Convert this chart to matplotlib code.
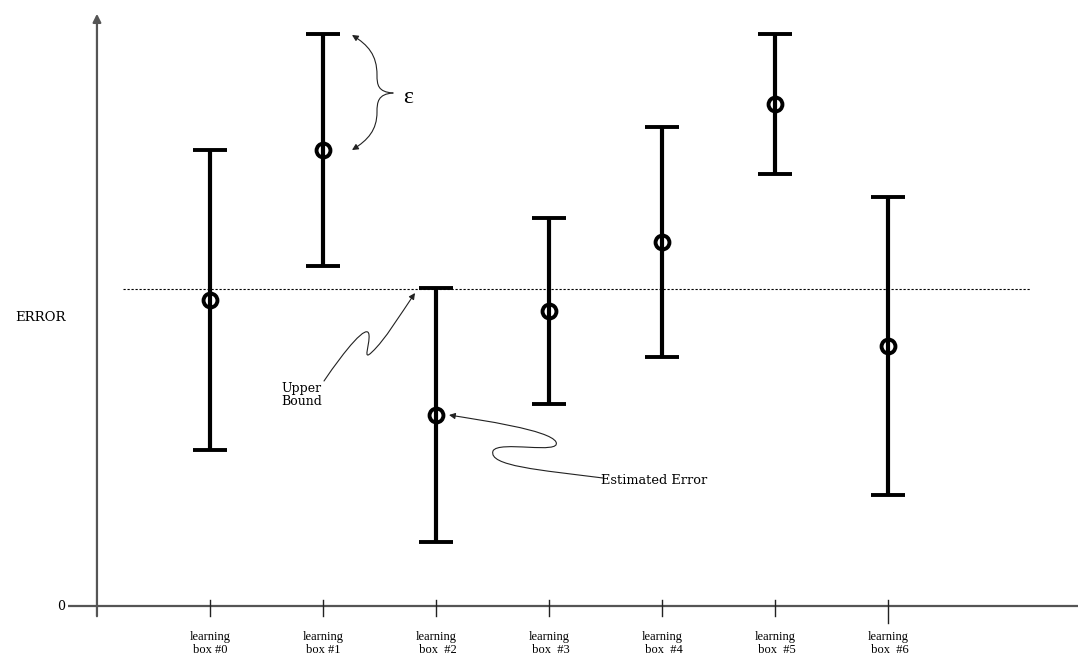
import numpy as np
import matplotlib
matplotlib.use("Agg")
import matplotlib.pyplot as plt
from matplotlib.path import Path
from matplotlib.patches import FancyArrowPatch

# Estimated error of each learning box and its confidence width (epsilon)
boxes = ["learning\nbox #0", "learning\nbox #1", "learning\n box  #2", "learning\n box  #3",
         "learning\n box  #4", "learning\n box  #5", "learning\n box  #6"]
est_error = [3.06, 4.56, 1.91, 2.95, 3.64, 5.02, 2.60]
epsilon = [1.50, 1.16, 1.27, 0.93, 1.15, 0.70, 1.49]
upper_bound = 3.17

W, H = 1078, 665
fig = plt.figure(figsize=(W / 100, H / 100), dpi=100)
ax = fig.add_axes([0, 0, 1, 1])
ax.set_xlim(-1.858, 7.681)
ax.set_ylim(-0.59, 6.06)
ax.axis("off")

serif = ["Liberation Serif", "DejaVu Serif"]
wide = ["DejaVu Serif"]
axis_col = "#555555"

x = np.arange(len(boxes))

# axes drawn by hand: plain x line and arrowed y line
ax.plot([-1.257, 7.68], [0, 0], color=axis_col, lw=1.6, solid_capstyle="butt")
ax.annotate("", xy=(-1.0, 5.95), xytext=(-1.0, -0.13),
            arrowprops=dict(arrowstyle="-|>", color=axis_col, lw=1.6, mutation_scale=12))
for xi in x:
    ax.plot([xi, xi], [0.06, -0.10 if xi < 6 else -0.17], color="#222222", lw=1.0)
    ax.text(xi, -0.25, boxes[xi], ha="center", va="top", fontsize=9,
            family=serif, linespacing=1.15)

ax.text(-1.32, 0.0, "0", ha="center", va="center", fontsize=9, family=wide)
ax.text(-1.50, 2.88, "ERROR", ha="center", va="center", fontsize=9.5, family=wide)

# upper bound line
ax.plot([-0.77, 7.257], [upper_bound, upper_bound], color="black", lw=0.8,
        dashes=(2, 1.6))

# error bars
ax.errorbar(x, est_error, yerr=epsilon, fmt="o", color="black", ecolor="black",
            elinewidth=3, capsize=12, capthick=3, markersize=10,
            markerfacecolor="none", markeredgewidth=2.8, zorder=3)


def px(p):
    return (p[0] / W, 1 - p[1] / H)


def squiggle(points, heads="-|>"):
    codes = [Path.MOVETO] + [Path.CURVE4] * (len(points) - 1)
    path = Path([px(p) for p in points], codes)
    arr = FancyArrowPatch(path=path, arrowstyle=heads, mutation_scale=9,
                          lw=0.8, color="#222222", transform=fig.transFigure)
    fig.patches.append(arr)


# "Upper Bound" pointer
squiggle([(324, 381), (345, 350), (368, 322), (369, 335),
          (370, 345), (362, 362), (372, 352),
          (385, 340), (400, 315), (415, 293)])
ax.text((302 - 210) / 113, (606 - 395) / 100, "Upper\nBound", ha="center",
        va="center", fontsize=9, family=wide, linespacing=1.0)

# "Estimated Error" pointer
squiggle([(603, 478), (540, 470), (488, 466), (493, 451),
          (498, 440), (562, 455), (556, 442),
          (550, 430), (480, 420), (449, 415)])
ax.text((601 - 210) / 113, (606 - 481) / 100, "Estimated Error", ha="left",
        va="center", fontsize=9.3, family=wide)

# epsilon brace
squiggle([(393, 93), (378, 92), (377, 85), (377, 75),
          (377, 55), (368, 45), (352, 35)])
squiggle([(393, 93), (378, 94), (377, 102), (377, 112),
          (377, 130), (368, 140), (352, 150)])
ax.text((408 - 210) / 113, (606 - 98) / 100, "ε", ha="center", va="center",
        fontsize=17, family=serif)

fig.savefig("out.png", dpi=100)
